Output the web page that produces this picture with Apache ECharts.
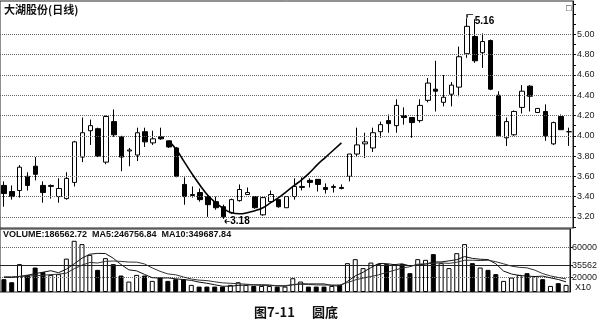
<!DOCTYPE html>
<html><head><meta charset="utf-8">
<script src="https://cdn.jsdelivr.net/npm/echarts@6/dist/echarts.min.js"></script>
<style>html,body{margin:0;padding:0;background:#fff}#c{width:600px;height:326px}</style>
</head><body><div id="c"></div>
<script>
const days = [1,2,3,4,5,6,7,8,9,10,11,12,13,14,15,16,17,18,19,20,21,22,23,24,25,26,27,28,29,30,31,32,33,34,35,36,37,38,39,40,41,42,43,44,45,46,47,48,49,50,51,52,53,54,55,56,57,58,59,60,61,62,63,64,65,66,67,68,69,70,71,72,73];
const openP  = [3.51,3.45,3.46,3.60,3.70,3.51,3.50,3.40,3.38,3.54, 3.79,4.05,4.07,3.74,4.14,3.99,3.85,3.81,4.04,3.93, 3.99,3.95,3.88,3.52,3.41,3.44,3.40,3.35,3.30,3.24, 3.36,3.42,3.40,3.22,3.35,3.37,3.29,3.40,3.49,3.56, 3.57,3.49,3.49,3.49,3.60,3.82,3.92,3.88,4.04,4.15, 4.10,4.20,4.18,4.15,4.35,4.46,4.33,4.41,4.48,4.81, 4.98,4.82,4.94,4.40,3.98,4.01,4.28,4.49,4.23,4.24, 3.92,4.19,4.04];
const closeP = [3.43,3.40,3.69,3.51,3.62,3.44,3.51,3.48,3.58,3.94, 4.03,4.10,3.80,4.19,4.01,3.79,3.86,4.03,3.94,3.97, 3.97,3.89,3.60,3.40,3.42,3.37,3.32,3.29,3.20,3.37, 3.47,3.44,3.29,3.39,3.42,3.30,3.40,3.50,3.50,3.54, 3.52,3.47,3.50,3.48,3.82,3.91,3.94,4.03,4.11,4.12, 4.30,4.18,4.13,4.30,4.52,4.44,4.38,4.50,4.78,5.08, 4.74,4.93,4.46,4.00,4.14,4.24,4.44,4.39,4.27,4.00, 4.13,4.06,4.04];
const lowP   = [3.30,3.37,3.39,3.46,3.56,3.34,3.38,3.34,3.37,3.50, 3.74,3.91,3.79,3.72,3.99,3.65,3.70,3.75,3.89,3.91, 3.96,3.88,3.59,3.32,3.39,3.35,3.20,3.27,3.18,3.23, 3.35,3.42,3.28,3.21,3.34,3.29,3.29,3.37,3.46,3.49, 3.45,3.43,3.44,3.47,3.55,3.79,3.78,3.84,3.98,4.03, 4.03,4.11,3.98,4.13,4.33,4.24,4.29,4.29,4.39,4.77, 4.72,4.67,4.45,4.00,3.90,4.00,4.22,4.24,4.23,3.95, 3.91,4.06,3.90];
const highP  = [3.55,3.51,3.71,3.64,3.79,3.55,3.52,3.58,3.64,3.95, 4.18,4.16,4.08,4.20,4.26,4.00,3.88,4.08,4.08,4.05, 4.08,3.95,3.89,3.59,3.50,3.48,3.42,3.40,3.32,3.38, 3.52,3.49,3.40,3.40,3.46,3.37,3.40,3.58,3.59,3.58, 3.57,3.53,3.52,3.52,3.82,4.08,4.03,4.08,4.14,4.21, 4.36,4.28,4.18,4.36,4.57,4.74,4.60,4.53,4.88,5.16, 5.15,5.01,4.95,4.44,4.18,4.25,4.50,4.50,4.27,4.31, 4.14,4.21,4.08];
const volume = [17300,13200,37600,23100,33000,26800,23100,24100,45000,69100, 64600,50100,29900,45700,37600,22200,14100,23100,22200,15000, 19500,15000,17300,17300,9600,7300,7300,7300,7300,9600, 13200,9600,8200,8200,8200,7300,7300,18600,14100,7300, 7300,7300,8200,9600,38900,44300,32200,39700,37600,37600, 37600,37600,25400,44300,43400,51100,38900,32200,52400,64600, 38900,33000,29900,24100,15000,19500,23100,25400,21500,17300, 8200,11900,9600];
const volMA5 = [19800,19500,21000,22500,24800,26700,28700,26000,30800,38000, 45600,51000,52100,51900,45600,37100,29900,28500,23800,19300, 18800,19000,17800,16800,15700,13300,11800,9800,7800,7800, 8900,9400,9600,9800,9500,8300,7800,9900,11100,10900, 10900,10900,8800,7900,14300,21700,26600,32900,38500,38300, 36900,38000,35200,36500,37700,40400,40600,42000,43600,47800, 45400,44200,43800,38100,28200,24300,22300,21400,20900,21400, 19100,16900,13700];
const volMA10 = [20500,20500,21000,21500,22000,22500,23500,24000,25500,31400, 36200,39900,39100,41300,41800,41300,40400,40300,37900,32500, 27900,24400,23200,20300,17500,16000,15400,13800,12300,11800, 11100,10600,9700,8800,8600,8600,8600,9800,10400,10200, 9600,9400,9400,9500,12600,16300,18800,20900,23200,26300, 29300,32300,34100,37500,38000,38700,39300,38600,40100,42800, 42900,42400,42900,40900,38000,34900,33300,32600,29500,24800, 21700,19600,17600];
// rounded-bottom guide curve, drawn from day 22 to day 44
const curveStartIndex = 21;
const curveValues = [3.95,3.86,3.74,3.62,3.51,3.41,3.34,3.28,3.24,3.23,3.24,3.26,3.29,3.34,3.39,3.45,3.51,3.57,3.64,3.72,3.79,3.86,3.93];
const priceTicks = [3.2,3.4,3.6,3.8,4.0,4.2,4.4,4.6,4.8,5.0];
const priceTickMarks = [3.1,3.2,3.3,3.4,3.5,3.6,3.7,3.8,3.9,4.0,4.1,4.2,4.3,4.4,4.5,4.6,4.7,4.8,4.9,5.0,5.1,5.2,5.3];
const volTicks = [20000,35562,60000];
const volGridLines = [20000,60000];
const volMarkValue = 35562;

const NARROW = '"Liberation Sans Narrow", "Arial Narrow", Arial, sans-serif';
const CJK = '"Noto Sans CJK SC", sans-serif';

const candleData = days.map((d,i)=>[openP[i], closeP[i], lowP[i], highP[i]]);
const volData = days.map((d,i)=>({
  value: volume[i],
  itemStyle: closeP[i] >= openP[i] ? {color:'#fff', borderColor:'#000', borderWidth:1} : {color:'#000', borderColor:'#000', borderWidth:1}
}));
const curveData = days.map((d,i)=>{
  const k = i - curveStartIndex;
  return (k >= 0 && k < curveValues.length) ? curveValues[k] : null;
});

const hiddenX = (g)=>({type:'category', data:days, gridIndex:g, boundaryGap:true,
  axisLine:{show:false}, axisTick:{show:false}, axisLabel:{show:false}, splitLine:{show:false}});

const chart = echarts.init(document.getElementById('c'));
chart.setOption({
  animation:false,
  backgroundColor:'#fff',
  title:[
    {text:'大湖股份(日线)', left:4, top:4, padding:0, textStyle:{fontSize:11, fontWeight:'bold', color:'#111', fontFamily:CJK}},
    {text:'VOLUME:186562.72  MA5:246756.84  MA10:349687.84', left:3, top:230, padding:0, textStyle:{fontSize:9, fontWeight:'bold', color:'#111', fontFamily:NARROW}},
    {text:'图7-11', left:254, top:306, padding:0, textStyle:{fontSize:13, fontWeight:'bold', color:'#111', fontFamily:CJK}},
    {text:'圆底', left:312, top:306, padding:0, textStyle:{fontSize:13, fontWeight:'bold', color:'#111', fontFamily:CJK}},
    {text:'X10', left:575, top:283, padding:0, textStyle:{fontSize:9, fontWeight:'normal', color:'#111', fontFamily:NARROW}},
    {text:'□', left:566, top:4, padding:0, textStyle:{fontSize:9, fontWeight:'normal', color:'#111'}}
  ],
  grid:[
    {left:0, top:1, width:573, height:227, show:true, borderColor:'#222', borderWidth:1},
    {left:0, top:229, width:573, height:63, show:true, borderColor:'#222', borderWidth:1}
  ],
  xAxis:[hiddenX(0), hiddenX(1)],
  yAxis:[
    {type:'value', gridIndex:0, position:'right', min:3.09, max:5.33,
      axisLine:{show:true, lineStyle:{color:'#111', width:1}},
      axisTick:{show:true, length:3, customValues:priceTickMarks, lineStyle:{color:'#111'}},
      axisLabel:{customValues:priceTicks, formatter:(v)=>Number(v).toFixed(2), fontSize:9, color:'#222', margin:4, fontFamily:NARROW},
      splitLine:{show:false}},
    {type:'value', gridIndex:1, position:'right', min:0, max:85000,
      axisLine:{show:true, lineStyle:{color:'#111', width:1}},
      axisTick:{show:true, length:3, customValues:volTicks, lineStyle:{color:'#111'}},
      axisLabel:{customValues:volTicks, formatter:(v)=>String(Math.round(v)), fontSize:9, color:'#222', margin:2, fontFamily:NARROW},
      splitLine:{show:false}}
  ],
  series:[
    {type:'candlestick', xAxisIndex:0, yAxisIndex:0, data:candleData, barWidth:5,
      itemStyle:{color:'#fff', color0:'#000', borderColor:'#000', borderColor0:'#000', borderWidth:1},
      markLine:{silent:true, symbol:'none', label:{show:false},
        lineStyle:{type:'dotted', color:'#666', width:1},
        data: priceTicks.map(v=>({yAxis:v}))},
      markPoint:{
        data:[
          {name:'low', type:'min', valueDim:'lowest', symbol:'path://M0,3 L10,3 M0,3 L4,0 M0,3 L4,6', symbolSize:[5,4], symbolOffset:[3.5,2.5],
            itemStyle:{color:'rgba(0,0,0,0)', borderColor:'#000', borderWidth:1},
            label:{show:true, position:'right', distance:0, offset:[0,0], formatter:(p)=>Number(p.value).toFixed(2),
              fontSize:10, fontWeight:'bold', color:'#000', fontFamily:'Arial, sans-serif'}},
          {name:'high', type:'max', valueDim:'highest', symbol:'path://M0,8 L0,0 L10,0', symbolSize:[6,3], symbolOffset:[3,-2],
            itemStyle:{color:'rgba(0,0,0,0)', borderColor:'#000', borderWidth:1},
            label:{show:true, position:'right', distance:1, offset:[0,5], formatter:(p)=>Number(p.value).toFixed(2),
              fontSize:10, fontWeight:'bold', color:'#000', fontFamily:'Arial, sans-serif'}}
        ]
      }
    },
    {type:'line', xAxisIndex:0, yAxisIndex:0, data:curveData, smooth:true, symbol:'none', connectNulls:false,
      lineStyle:{color:'#000', width:1.6}, z:5},
    {type:'bar', xAxisIndex:1, yAxisIndex:1, data:volData, barWidth:5,
      markLine:{silent:true, symbol:'none', label:{show:false},
        data: volGridLines.map(v=>({yAxis:v, lineStyle:{type:'dotted', color:'#666', width:1}}))
          .concat([{yAxis:volMarkValue, lineStyle:{type:'solid', color:'#222', width:1}}])}
    },
    {type:'line', xAxisIndex:1, yAxisIndex:1, data:volMA5, symbol:'none', lineStyle:{color:'#111', width:1}, z:5},
    {type:'line', xAxisIndex:1, yAxisIndex:1, data:volMA10, symbol:'none', lineStyle:{color:'#333', width:1}, z:5}
  ]
});
</script></body></html>
